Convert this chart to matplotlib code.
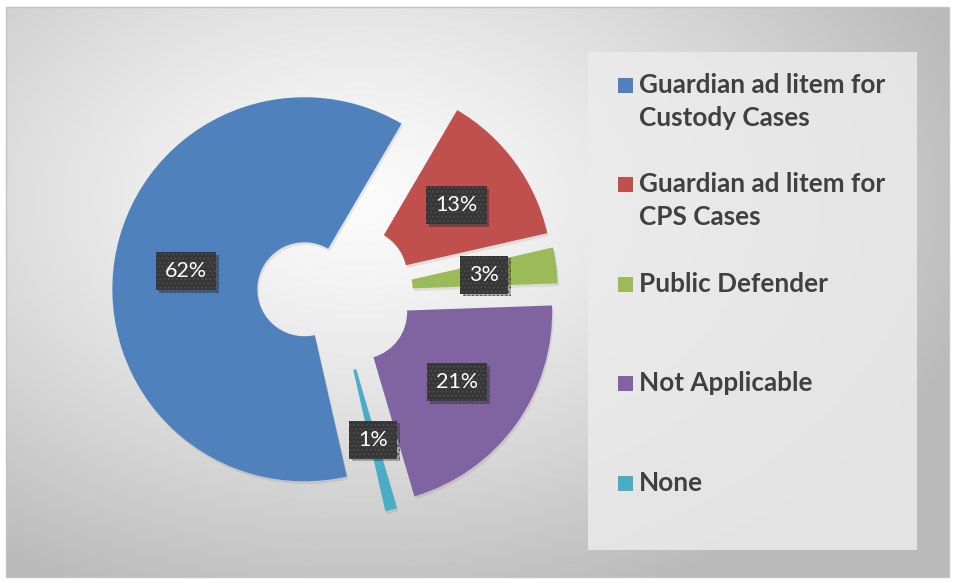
import matplotlib.pyplot as plt
import matplotlib.patheffects as pe
from matplotlib.patches import Rectangle
import numpy as np

plt.rcParams['font.family'] = ['Lato', 'DejaVu Sans']

categories = [
    "Guardian ad litem for\nCustody Cases",
    "Guardian ad litem for\nCPS Cases",
    "Public Defender",
    "Not Applicable",
    "None",
]
shares = [62, 13, 3, 21, 1]
colors = ["#4F81BD", "#C0504D", "#9BBB59", "#8064A2", "#4BACC6"]

W, H = 957, 583
TEXT = "#404040"

fig = plt.figure(figsize=(W / 100, H / 100), dpi=100, facecolor="white")
ax = fig.add_axes([0, 0, 1, 1])

# soft radial backdrop of the chart area
x0, x1, y0, y1 = 6, 949, 7, 577
gx, gy = np.meshgrid(np.linspace(x0, x1, 400), np.linspace(y0, y1, 260))
t = np.sqrt(((gx - 360) / 640) ** 2 + ((gy - 200) / 430) ** 2)
t = np.clip(t, 0, 1) ** 1.3
shade = 0.985 - (0.985 - 0.73) * t
ax.imshow(np.dstack([shade] * 3), extent=(x0, x1, H - y1, H - y0),
          origin="upper", aspect="auto", zorder=0)
ax.add_patch(Rectangle((x0, H - y1), x1 - x0, y1 - y0, fill=False,
                       edgecolor="#c4c4c4", linewidth=1, zorder=1))

# exploded doughnut
wedges, texts, autotexts = ax.pie(
    shares, colors=colors, startangle=-77.2, counterclock=False,
    radius=192, center=(335, H - 294), explode=[31] * len(shares),
    labeldistance=None, autopct="%d%%", pctdistance=0.622,
    wedgeprops=dict(width=145, linewidth=0),
    textprops=dict(color="white", fontsize=15.5),
)
for w in wedges:
    w.set_zorder(2)
    w.set_path_effects([
        pe.SimplePatchShadow(offset=(1, -2), shadow_rgbFace="black",
                             alpha=0.08),
        pe.Normal(),
    ])
for t in autotexts:
    t.set_zorder(5)
    t.set_bbox(dict(boxstyle="square,pad=0.42", facecolor="#363636",
                    edgecolor="#4c4c4c", linewidth=0, hatch="...."))
    t.get_bbox_patch().set_path_effects([
        pe.withSimplePatchShadow(offset=(2, -2), shadow_rgbFace="black",
                                 alpha=0.25)])

# legend panel
ax.add_patch(Rectangle((588, H - 550), 329, 498, facecolor="#ebebeb",
                       edgecolor="none", alpha=0.85, zorder=1))
for i, (label, c) in enumerate(zip(categories, colors)):
    cy = 85.5 + i * 99.4
    ax.add_patch(Rectangle((618, H - cy - 7.5), 15, 15, facecolor=c,
                           edgecolor="none", zorder=3))
    for k, line in enumerate(label.split("\n")):
        ax.text(639, H - (cy + 7.5 + k * 33), line, fontsize=18.8,
                fontweight="bold", color=TEXT, ha="left", va="baseline",
                zorder=3)

ax.set_xlim(0, W)
ax.set_ylim(0, H)
ax.set_aspect("auto")
ax.axis("off")

fig.savefig("out.png", dpi=100, facecolor="white")
